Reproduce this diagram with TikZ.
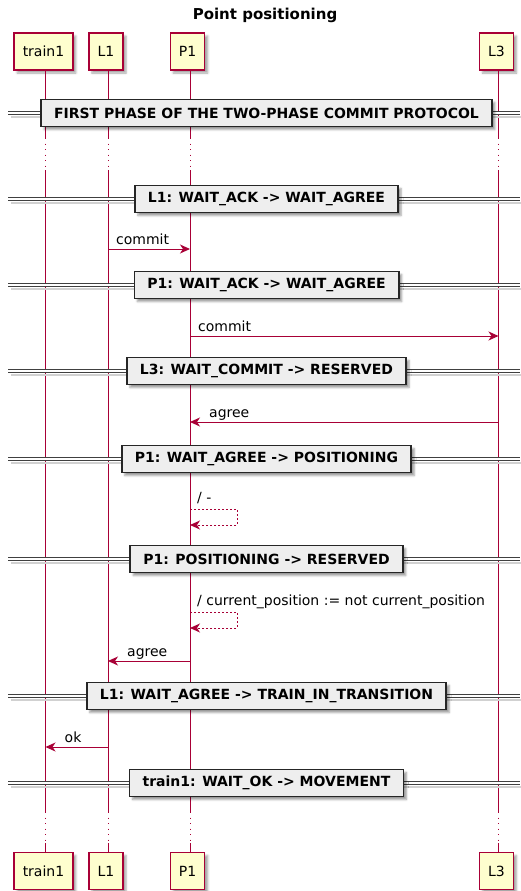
\documentclass[tikz,border=0pt]{standalone}
\usepackage{fontspec}
\setmainfont{DejaVu Sans}
\usetikzlibrary{arrows.meta,shadows.blur,calc}
\definecolor{plife}{HTML}{A80036}
\definecolor{pfill}{HTML}{FEFECE}
\definecolor{dfill}{HTML}{EEEEEE}
\tikzset{
  part/.style={draw=plife, fill=pfill, line width=1.2pt, minimum height=37pt,
    inner xsep=8.7pt, inner ysep=0pt, font=\fontsize{14}{16}\selectfont,
    blur shadow={shadow xshift=3pt, shadow yshift=-3pt, shadow blur radius=2pt, shadow opacity=35}},
  life/.style={draw=plife, line width=0.8pt},
  lifedot/.style={life, dash pattern=on 1pt off 4.5pt},
  divbox/.style={draw=black!85, fill=dfill, line width=1.6pt, minimum height=27pt,
    inner xsep=13pt, inner ysep=0pt, font=\bfseries\fontsize{14}{16}\selectfont,
    blur shadow={shadow xshift=3pt, shadow yshift=-3pt, shadow blur radius=2pt, shadow opacity=40}},
  divline/.style={draw=black!75, double=white, double distance=1.6pt, line width=1pt},
  divshadow/.style={draw=black!18, line width=2pt},
  msg/.style={draw=plife, line width=1pt, -{Stealth[length=10pt, width=9pt, inset=3pt]}},
  selfmsg/.style={msg, dash pattern=on 2pt off 2pt},
  lbl/.style={font=\fontsize{14}{16}\selectfont, inner sep=0pt, anchor=base west},
}
\begin{document}
\begin{tikzpicture}[x=1pt, y=-1pt]
\useasboundingbox (0,0) rectangle (520,891);

% title
\node[font=\bfseries\fontsize{15}{18}\selectfont] (title) at (265,15) {Point positioning};

% lifeline x positions
\coordinate (xA) at (45.5,0);
\coordinate (xL1) at (108,0);
\coordinate (xP1) at (190,0);
\coordinate (xL3) at (498.5,0);

% gaps in the lifelines
\coordinate (g1) at (0,138);
\coordinate (g2) at (0,170);
\coordinate (g3) at (0,812);
\coordinate (g4) at (0,843);

% participants, top and bottom
\node[part] (tA)  at (43.5,51.5) {train1};
\node[part] (tL1) at (106,51.5) {L1};
\node[part] (tP1) at (187.5,51.5) {P1};
\node[part] (tL3) at (496.5,51.5) {L3};
\node[part] (bA)  at (43.5,871) {train1};
\node[part] (bL1) at (106,871) {L1};
\node[part] (bP1) at (187.5,871) {P1};
\node[part] (bL3) at (496.5,871) {L3};

% lifelines
\foreach \p in {A,L1,P1,L3}{
  \draw[life] (x\p |- tA.south) -- (x\p |- g1);
  \draw[lifedot] (x\p |- g1) -- (x\p |- g2);
  \draw[life] (x\p |- g2) -- (x\p |- g3);
  \draw[lifedot] (x\p |- g3) -- (x\p |- g4);
  \draw[life] (x\p |- g4) -- (x\p |- bA.north);
}

% dividers
\coordinate (left) at (8,0);
\coordinate (right) at (520,0);
\foreach \n/\y/\t in {
  d1/113/{FIRST PHASE OF THE TWO-PHASE COMMIT PROTOCOL},
  d2/199/{L1: WAIT\_ACK -> WAIT\_AGREE},
  d3/285/{P1: WAIT\_ACK -> WAIT\_AGREE},
  d4/371/{L3: WAIT\_COMMIT -> RESERVED},
  d5/459/{P1: WAIT\_AGREE -> POSITIONING},
  d6/559/{P1: POSITIONING -> RESERVED},
  d7/696/{L1: WAIT\_AGREE -> TRAIN\_IN\_TRANSITION},
  d8/783/{train1: WAIT\_OK -> MOVEMENT}}{
  \coordinate (\n) at (266.5,\y);
  \draw[divshadow] ($(left |- \n)+(3,4)$) -- ($(right |- \n)+(3,4)$);
  \draw[divline] (left |- \n) -- (right |- \n);
  \node[divbox] (\n box) at (\n) {\t};
}

% messages
\coordinate (m1) at (0,249);
\coordinate (m2) at (0,336);
\coordinate (m3) at (0,422);
\coordinate (s1) at (0,509);
\coordinate (s2) at (0,612);
\coordinate (m4) at (0,661);
\coordinate (m5) at (0,747);
\coordinate (loopx) at (237,0);

\draw[msg] (xL1 |- m1) -- (xP1 |- m1);
\node[lbl] (l1) at ($(xL1 |- m1)+(8,-5)$) {commit};

\draw[msg] (xP1 |- m2) -- (xL3 |- m2);
\node[lbl] (l2) at ($(xP1 |- m2)+(8,-5)$) {commit};

\draw[msg] (xL3 |- m3) -- (xP1 |- m3);
\node[lbl] (l3) at ($(xP1 |- m3)+(19,-5)$) {agree};

\draw[selfmsg] (xP1 |- s1) -- (loopx |- s1) -- ($(loopx |- s1)+(0,16)$) -- ($(xP1 |- s1)+(0,16)$);
\node[lbl] (l4) at ($(xP1 |- s1)+(7,-7)$) {/ -};

\draw[selfmsg] (xP1 |- s2) -- (loopx |- s2) -- ($(loopx |- s2)+(0,16)$) -- ($(xP1 |- s2)+(0,16)$);
\node[lbl] (l5) at ($(xP1 |- s2)+(7,-7)$) {/ current\_position := not current\_position};

\draw[msg] (xP1 |- m4) -- (xL1 |- m4);
\node[lbl] (l6) at ($(xL1 |- m4)+(19,-5)$) {agree};

\draw[msg] (xL1 |- m5) -- (xA |- m5);
\node[lbl] (l7) at ($(xA |- m5)+(19,-5)$) {ok};
\end{tikzpicture}
\end{document}
